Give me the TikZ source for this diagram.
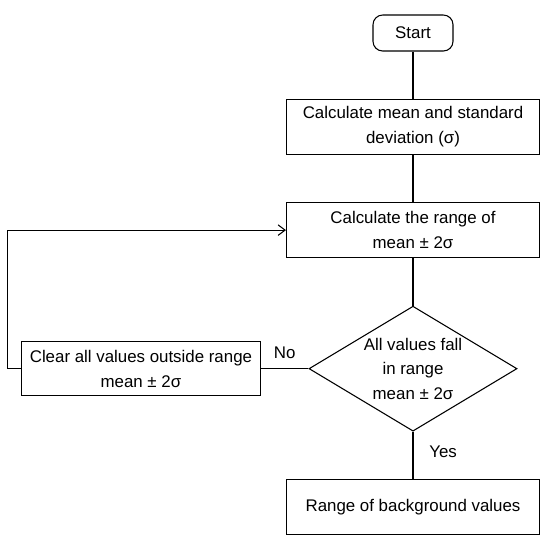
\documentclass[tikz,border=0pt]{standalone}
\usepackage{fontspec}
\setmainfont{Liberation Sans}
\usepackage{tikz}
\usetikzlibrary{shapes.geometric,arrows.meta,positioning}
\tikzset{
  % Base box
  PB/.style={rectangle,draw,line width=0.6pt,
             minimum width=5.06cm,minimum height=1.1cm,
             text centered,align=center,inner sep=2pt,
             font=\fontsize{9.6}{14}\selectfont},
  % Start box
  SB/.style={PB,rounded corners=5.5pt,minimum width=1.6cm,minimum height=0.72cm},
  % Decision
  DC/.style={diamond,draw,line width=0.6pt,aspect=1.664,
             minimum width=4.16cm,minimum height=2.5cm,inner sep=0pt,
             text centered,align=center,
             font=\fontsize{9.6}{14}\selectfont},
  % Lines
  ln/.style={line width=0.6pt},
  arr/.style={ln,-{Straight Barb[length=4pt,width=6pt]}},
  % Label
  LB/.style={font=\fontsize{9.6}{12}\selectfont}
}
\begin{document}
\begin{tikzpicture}[node distance=0.95cm]
  \useasboundingbox (0,0) rectangle (11,-10.84);
  \node[SB] (start) at (8.26,-0.66) {Start};
  \node[PB,below=0.94cm of start] (mean) {Calculate mean and standard\\deviation (σ)};
  \node[PB,below=of mean] (range) {Calculate the range of\\mean ± 2σ};
  \node[DC,below=of range] (check) {All values fall\\in range\\mean ± 2σ};
  \node[PB,minimum width=4.78cm,minimum height=1.08cm,left=0.95cm of check] (clear) {Clear all values outside range\\mean ± 2σ};
  \node[PB,below=of check] (result) {Range of background values};
  \coordinate[left=0.27cm of clear.west] (loopA);

  \draw[ln](start)--(mean);
  \draw[ln](mean)--(range);
  \draw[ln](range)--(check);
  \draw[ln](check.south)--node[LB,right=0.2cm,yshift=2pt]{Yes}(result.north);
  \draw[ln](check.west)--node[LB,above=2pt]{No}(clear.east);
  \draw[arr](clear.west)--(loopA)|-(range.west);
\end{tikzpicture}
\end{document}
